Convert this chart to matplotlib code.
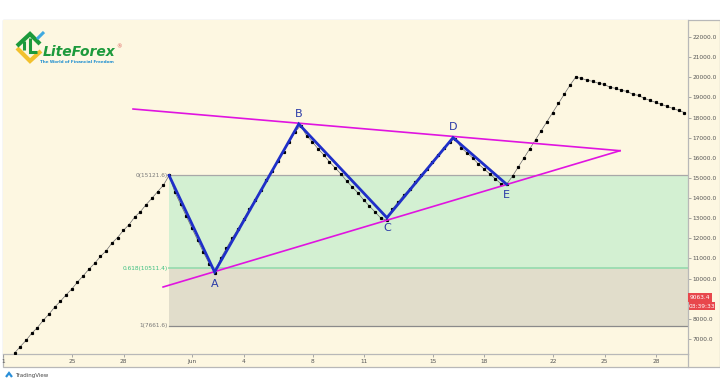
import numpy as np
import matplotlib.pyplot as plt
from matplotlib.patches import Rectangle
from matplotlib.lines import Line2D

# 8-hour closes, day numbers counted from 1 May
first_day = 21.65
bar_step = 1 / 3
closes = [
    6300, 6620, 6930, 7280, 7570, 7920, 8230, 8580, 8870, 9190, 9480, 9830, 10140, 10470,
    10760, 11100, 11380, 11760, 12040, 12390, 12680, 13060, 13330, 13680, 13990, 14320, 14640, 15121.6,
    14300, 13700, 13100, 12500, 11900, 11300, 10750, 10300,
    11000, 11500, 12000, 12450, 12950, 13450, 13900, 14400, 14900, 15350, 15850, 16300, 16800, 17300, 17600,
    17100, 16800, 16450, 16150, 15800, 15500, 15200, 14850, 14550, 14250, 13900, 13600, 13300, 13000, 12900,
    13450, 13800, 14150, 14450, 14800, 15150, 15450, 15800, 16150, 16500, 16800, 16950,
    16500, 16250, 16000, 15700, 15450, 15200, 14950, 14700, 14700,
    15100, 15550, 16000, 16450, 16900, 17350, 17800, 18250, 18700, 19150, 19600, 20000,
    19950, 19850, 19800, 19700, 19650, 19500, 19450, 19350, 19300, 19150, 19100, 18950, 18850,
    18750, 18650, 18550, 18450, 18350, 18250,
]

pivot_days = [30.65, 33.3, 38.2, 43.33, 47.18, 50.3]
pivot_prices = [15121.6, 10328, 17679, 13025, 17000, 14684]
pivot_names = ['', 'A', 'B', 'C', 'D', 'E']
pivot_offsets = [0, -9, 7.5, -7.5, 7.5, -8]

fib_start = 30.65
fib_levels = [15121.6, 10511.4, 7661.6]
fib_names = ['0(15121.6)', '0.618(10511.4)', '1(7661.6)']

upper_days = [28.55, 56.9]
upper_prices = [18424, 16353]
lower_days = [30.3, 56.9]
lower_prices = [9583, 16353]

price_ticks = [7000, 8000, 10000, 11000, 12000, 13000, 14000, 15000,
               16000, 17000, 18000, 19000, 20000, 21000, 22000]
date_ticks = [21, 25, 28, 32, 35, 39, 42, 46, 49, 53, 56, 59]
date_labels = ['1', '25', '28', 'Jun', '4', '8', '11', '15', '18', '22', '25', '28']

last_price = '9063.4'
countdown = '03:39:33'

cream = '#fdf7e1'
W, H = 720, 384


def px(x, y):
    return x / W, 1 - y / H


fig = plt.figure(figsize=(7.2, 3.84), dpi=100, facecolor='white')

# chart panel frame
fig.add_artist(Rectangle(px(3, 367), 717 / W, 347 / H, transform=fig.transFigure,
                         facecolor=cream, edgecolor='#b8b8b8', lw=0.9, zorder=-2))
fig.add_artist(Line2D([688 / W, 688 / W], [1 - 367 / H, 1 - 354 / H],
                      transform=fig.transFigure, color='#b8b8b8', lw=0.9))

ax = fig.add_axes([3 / W, 1 - 354 / H, 685 / W, 334 / H])
ax.set_facecolor(cream)
ax.set_xlim(20.98, 60.86)
ax.set_ylim(6255, 22845)

# fibonacci retracement block
xfrac = (fib_start - 20.98) / (60.86 - 20.98)
ax.axhspan(fib_levels[1], fib_levels[0], xmin=xfrac, color='#d3f0d2', zorder=1, lw=0)
ax.axhspan(fib_levels[2], fib_levels[1], xmin=xfrac, color='#e1ddcb', zorder=1, lw=0)
fib_colors = ['#a8a8a8', '#9adcb0', '#8a8a8a']
fib_widths = [0.9, 1.3, 0.9]
fib_text_colors = ['#7a7a7a', '#3cbf80', '#7a7a7a']
for lvl, name, c, w, tc in zip(fib_levels, fib_names, fib_colors, fib_widths, fib_text_colors):
    ax.plot([fib_start, 60.86], [lvl, lvl], color=c, lw=w, zorder=2)
    ax.text(fib_start - 0.1, lvl, name, color=tc, fontsize=4.2, ha='right', va='center', zorder=5)

# price series
days = first_day + bar_step * np.arange(len(closes))
ax.plot(days, closes, color='#6a6a6a', lw=0.5, marker='s', ms=1.3,
        mfc='black', mec='black', zorder=3)

# triangle lines
ax.plot(upper_days, upper_prices, color='#e014e0', lw=1.2, zorder=4)
ax.plot(lower_days, lower_prices, color='#e014e0', lw=1.2, zorder=4)

# zigzag wave
ax.plot(pivot_days, pivot_prices, color='#1f2fc8', lw=2, zorder=5, solid_joinstyle='miter')
for d, p, name, off in zip(pivot_days, pivot_prices, pivot_names, pivot_offsets):
    if name:
        ax.annotate(name, (d, p), xytext=(0, off), textcoords='offset points',
                    ha='center', va='center', fontsize=8, color='#2a3aa8', zorder=6)

# axes styling
for s in ['top', 'left']:
    ax.spines[s].set_visible(False)
for s in ['bottom', 'right']:
    ax.spines[s].set_color('#b8b8b8')
    ax.spines[s].set_linewidth(0.9)
ax.yaxis.tick_right()
ax.set_yticks(price_ticks)
ax.set_yticklabels([f'{v:.1f}' for v in price_ticks])
ax.set_xticks(date_ticks)
ax.set_xticklabels(date_labels)
ax.tick_params(axis='y', length=2, width=0.6, color='#999999', labelsize=4.2,
               labelcolor='#555555', pad=1.5)
ax.tick_params(axis='x', length=2, width=0.6, color='#999999', labelsize=4.2,
               labelcolor='#555555', pad=1.5)

# last price / countdown tags on the price scale
fig.add_artist(Rectangle(px(688, 302), 24 / W, 9 / H, transform=fig.transFigure,
                         facecolor='#e8474c', edgecolor='none', zorder=5))
fig.text(*px(700, 297.5), last_price, color='white', fontsize=4.2, ha='center', va='center', zorder=6)
fig.add_artist(Rectangle(px(689, 310), 26 / W, 8 / H, transform=fig.transFigure,
                         facecolor='#e8474c', edgecolor='none', zorder=5))
fig.text(*px(702, 306), countdown, color='white', fontsize=4.2, ha='center', va='center', zorder=6)


# LiteForex logo
def poly(pts, color, lw):
    xs = [p[0] / W for p in pts]
    ys = [1 - p[1] / H for p in pts]
    fig.add_artist(Line2D(xs, ys, transform=fig.transFigure, color=color, lw=lw,
                          solid_capstyle='butt', solid_joinstyle='miter'))


poly([(17, 48), (30, 61), (41, 51)], '#f2c12e', 3)
poly([(17, 46), (30, 34), (40, 44)], '#1c9a3c', 3)
poly([(24, 41), (24, 50)], '#1c9a3c', 2.2)
poly([(30, 38), (30, 52), (37, 52)], '#1c9a3c', 2.2)
poly([(37, 39), (44, 32)], '#3fa9e0', 2.2)
fig.text(*px(43, 52), 'LiteForex', fontsize=10, fontweight='bold', fontstyle='italic',
         color='#1c9a3c', ha='left', va='center')
fig.text(*px(119, 47), '®', fontsize=4, color='#d9534f', ha='center', va='center')
fig.text(*px(40, 62), 'The World of Financial Freedom', fontsize=3, fontweight='bold',
         color='#1f8fd0', ha='left', va='center')

# TradingView footer
poly([(6, 377), (9, 373), (12, 377)], '#2a8fd8', 1.6)
fig.text(*px(15, 375), 'TradingView', fontsize=4, color='#444444', ha='left', va='center')

fig.savefig('out.png', dpi=100, facecolor='white')
